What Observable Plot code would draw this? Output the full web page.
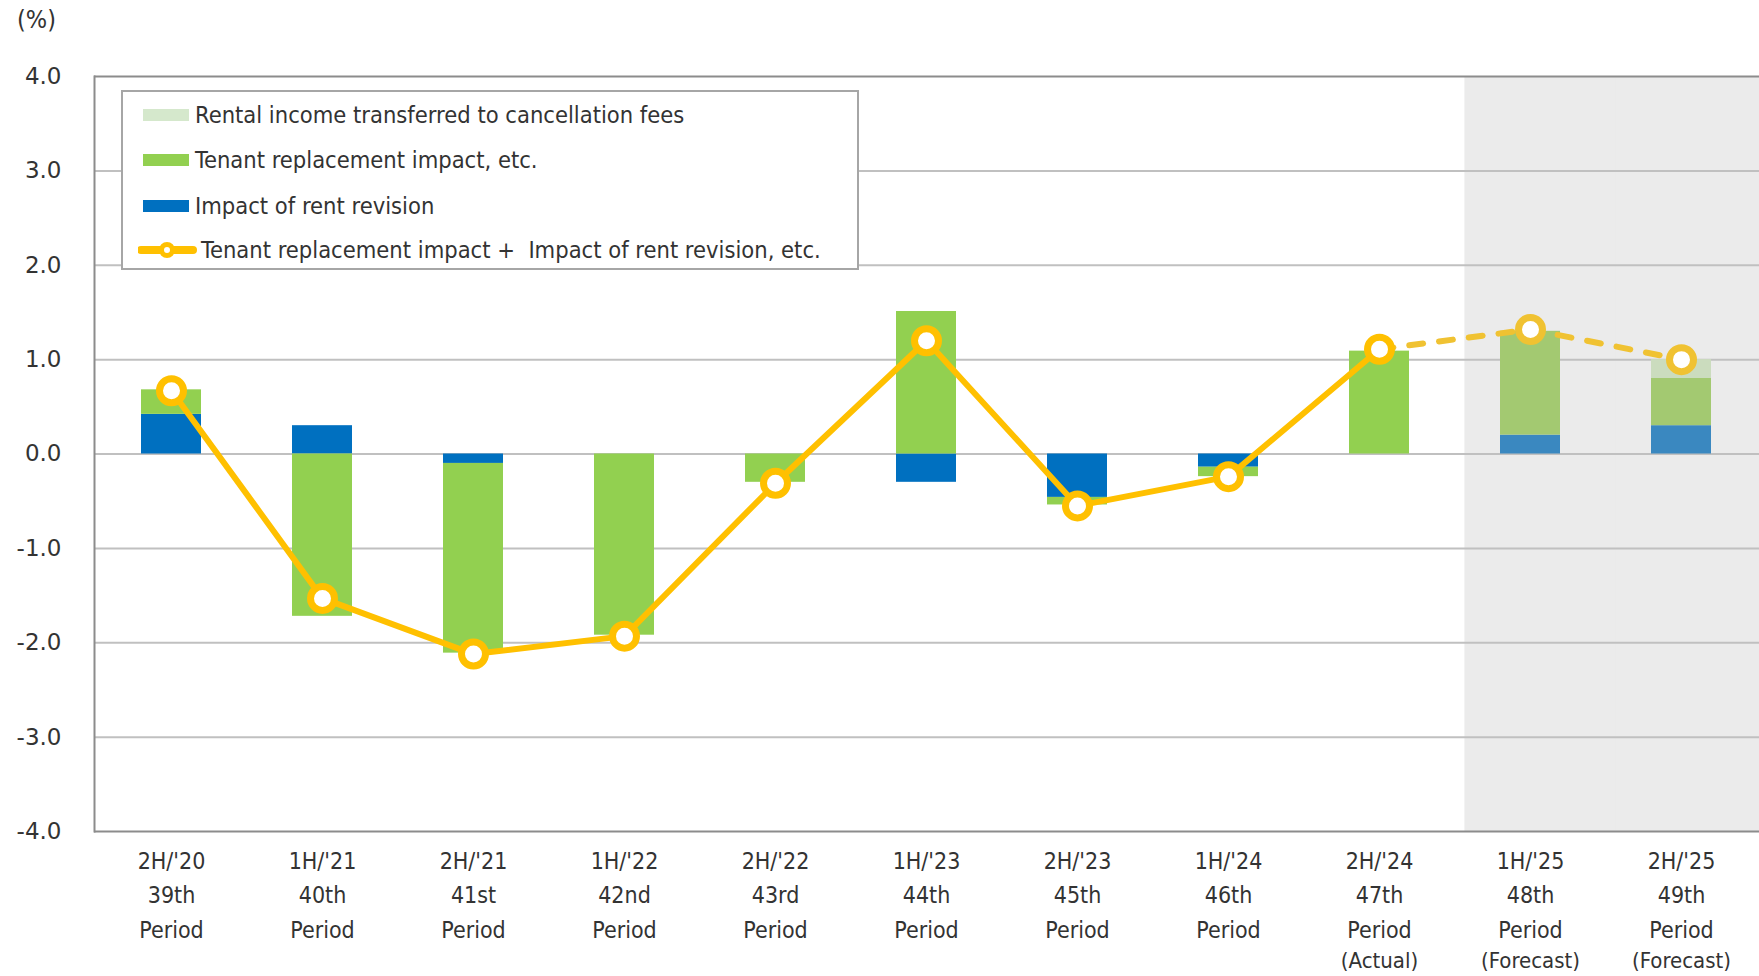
<!DOCTYPE html>
<html>
<head>
<meta charset="utf-8">
<script src="https://cdn.jsdelivr.net/npm/d3@7"></script>
<script src="https://cdn.jsdelivr.net/npm/@observablehq/plot@0.6"></script>
<style>
  html, body { margin: 0; padding: 0; background: #fff; }
  #wrap { position: relative; width: 1759px; height: 976px; overflow: hidden; color: #333; }
  #unit { position: absolute; left: 17px; top: 5px; font: 25px "DejaVu Sans Condensed", "DejaVu Sans", sans-serif; color: #333; }
  #legend { position: absolute; left: 121px; top: 90px; width: 738px; height: 180px; box-sizing: border-box;
            border: 2px solid #A6A6A6; background: #fff; font-family: "DejaVu Sans Condensed", "DejaVu Sans", sans-serif; font-size: 23.5px; color: #333; }
  .row { position: absolute; left: 0; height: 30px; display: flex; align-items: center; white-space: pre; }
  .sw { display: inline-block; width: 46px; height: 12px; margin-left: 20px; margin-right: 6px; }
</style>
</head>
<body>
<div id="wrap">
  <div id="chart"></div>
  <div id="unit">(%)</div>
  <div id="legend"></div>
</div>
<script>
// ---- data ----
const periods = ["2H/'20", "1H/'21", "2H/'21", "1H/'22", "2H/'22", "1H/'23", "2H/'23", "1H/'24", "2H/'24", "1H/'25", "2H/'25"];
const periodNames = ["39th", "40th", "41st", "42nd", "43rd", "44th", "45th", "46th", "47th", "48th", "49th"];
const periodNotes = ["", "", "", "", "", "", "", "", "(Actual)", "(Forecast)", "(Forecast)"];
const isForecast = [false, false, false, false, false, false, false, false, false, true, true];
const rentRevision      = [0.42, 0.30, -0.10, 0.00, 0.00, -0.30, -0.46, -0.14, 0.00, 0.20, 0.30];
const tenantReplacement = [0.26, -1.72, -2.01, -1.92, -0.30, 1.51, -0.08, -0.10, 1.09, 1.10, 0.50];
const cancellationFees  = [0.00, 0.00, 0.00, 0.00, 0.00, 0.00, 0.00, 0.00, 0.00, 0.00, 0.20];
const combinedImpact    = [0.67, -1.53, -2.12, -1.93, -0.31, 1.20, -0.55, -0.24, 1.11, 1.32, 1.00];
const yTicks = [-4, -3, -2, -1, 0, 1, 2, 3, 4];
const gridTicks = [-3, -2, -1, 0, 1, 2, 3];
const seriesNames = ["Rental income transferred to cancellation fees", "Tenant replacement impact, etc.", "Impact of rent revision", "Tenant replacement impact +  Impact of rent revision, etc."];

// ---- styles ----
const colActual = {rent: "#0070C0", tenant: "#92D050", cancel: "#D5E8CC"};
const colForecast = {rent: "#3A88C0", tenant: "#A3C971", cancel: "#CBDCBE"};
const lineColor = "#FFC000", lineForecastColor = "#F0C232";

const W = 1759, H = 976, mL = 94, mR = 0, mT = 76, mB = 145;
const step = (W - mL - mR) / periods.length;

const rows = periods.flatMap((p, i) => {
  const c = isForecast[i] ? colForecast : colActual;
  return [
    {period: p, series: "rent", value: rentRevision[i], color: c.rent},
    {period: p, series: "tenant", value: tenantReplacement[i], color: c.tenant},
    {period: p, series: "cancel", value: cancellationFees[i], color: c.cancel}
  ];
});
const pts = periods.map((p, i) => ({period: p, value: combinedImpact[i], forecast: isForecast[i]}));
const lastActual = isForecast.indexOf(true) - 1;
const forecastPeriods = periods.filter((p, i) => isForecast[i]);
const labelOf = new Map(periods.map((p, i) => [p, `${p}\n${periodNames[i]}\nPeriod`]));
const notes = periods.map((p, i) => ({period: p, note: periodNotes[i]})).filter(d => d.note);

const chart = Plot.plot({
  width: W, height: H,
  marginLeft: mL, marginRight: mR, marginTop: mT, marginBottom: mB,
  style: {fontFamily: "'DejaVu Sans', sans-serif", color: "#333", background: "#fff"},
  x: {domain: periods, paddingInner: 0.6, paddingOuter: 0.3, axis: null},
  y: {domain: [-4, 4], axis: null},
  color: {type: "identity"},
  marks: [
    // forecast shading
    Plot.barY(forecastPeriods, {x: d => d, y1: -4, y2: 4, fill: "#EBEBEB", insetLeft: -0.235 * step, insetRight: -0.42 * step}),
    Plot.ruleY(gridTicks, {stroke: "#C0C0C0", strokeWidth: 2}),
    Plot.ruleY([-4, 4], {stroke: "#8C8C8C", strokeWidth: 2}),
    Plot.frame({anchor: "left", stroke: "#8C8C8C", strokeWidth: 2}),
    Plot.axisY({ticks: yTicks, tickSize: 0, tickPadding: 33, tickFormat: d => d.toFixed(1), fontSize: 23, label: null}),
    Plot.axisX({tickSize: 0, tickPadding: 13, tickFormat: d => labelOf.get(d), fontSize: 23, lineHeight: 1.5,
                fontFamily: "'DejaVu Sans Condensed', 'DejaVu Sans', sans-serif", label: null}),
    Plot.text(notes, {x: "period", y: -4, text: "note", dy: 129, fontSize: 22,
                      fontFamily: "'DejaVu Sans Condensed', 'DejaVu Sans', sans-serif", fill: "#333"}),
    Plot.barY(rows, Plot.stackY({x: "period", y: "value", z: "series", fill: "color"})),
    Plot.line(pts.slice(0, lastActual + 1), {x: "period", y: "value", stroke: lineColor, strokeWidth: 6, curve: "linear"}),
    Plot.line(pts.slice(lastActual), {x: "period", y: "value", stroke: lineForecastColor, strokeWidth: 6,
                                      strokeDasharray: "14,16", strokeLinecap: "round"}),
    Plot.dot(pts, {x: "period", y: "value", r: 12, fill: "#fff", strokeWidth: 7,
                   stroke: d => d.forecast ? lineForecastColor : lineColor})
  ]
});
document.getElementById("chart").appendChild(chart);

// ---- legend ----
const legend = document.getElementById("legend");
const items = [
  {label: seriesNames[0], color: colActual.cancel, top: 8},
  {label: seriesNames[1], color: colActual.tenant, top: 53},
  {label: seriesNames[2], color: colActual.rent, top: 99},
  {label: seriesNames[3], line: true, top: 143}
];
items.forEach(it => {
  const row = document.createElement("div");
  row.className = "row";
  row.style.top = it.top + "px";
  if (it.line) {
    const s = d3.create("svg").attr("width", 60).attr("height", 30).style("margin-left", 15).style("margin-right", 3);
    s.append("line").attr("x1", 3).attr("x2", 55).attr("y1", 15).attr("y2", 15).attr("stroke", lineColor).attr("stroke-width", 8).attr("stroke-linecap", "round");
    s.append("circle").attr("cx", 29).attr("cy", 15).attr("r", 5.5).attr("fill", "#fff").attr("stroke", lineColor).attr("stroke-width", 5);
    row.appendChild(s.node());
  } else {
    const sw = document.createElement("span");
    sw.className = "sw";
    sw.style.background = it.color;
    row.appendChild(sw);
  }
  const t = document.createElement("span");
  t.textContent = it.label;
  row.appendChild(t);
  legend.appendChild(row);
});
</script>
</body>
</html>
